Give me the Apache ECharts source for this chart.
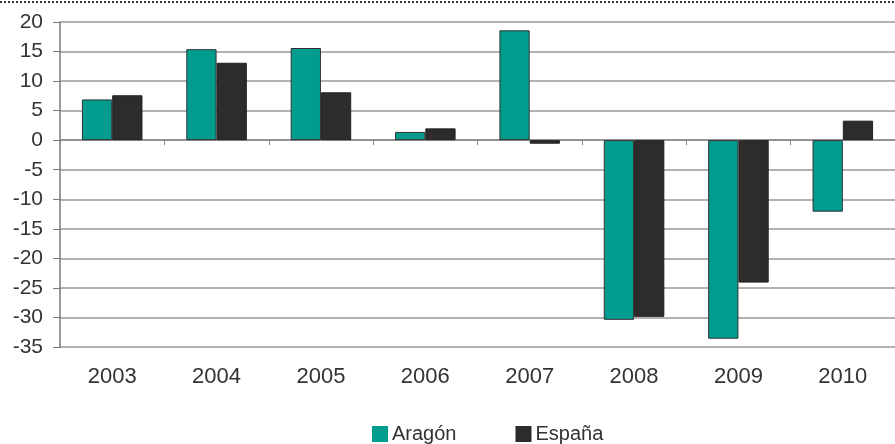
<!DOCTYPE html>
<html>
<head>
<meta charset="utf-8">
<script src="https://cdn.jsdelivr.net/npm/echarts@6/dist/echarts.min.js"></script>
<style>
  html, body { margin: 0; padding: 0; background: #fff; }
  #c { width: 895px; height: 444px; }
</style>
</head>
<body>
<div id="c"></div>
<script>
(() => {
  "use strict";
  const years = ["2003", "2004", "2005", "2006", "2007", "2008", "2009", "2010"];
  const aragon = [6.9, 15.4, 15.6, 1.4, 18.6, -30.4, -33.6, -12.1];
  const espana = [7.6, 13.1, 8.1, 2.0, -0.6, -29.9, -24.1, 3.3];
  const TEAL = "#009d8f", DARK = "#2d2b2c";
  const FONT = "'Liberation Sans', Arial, sans-serif";

  const chart = echarts.init(document.getElementById("c"));
  chart.setOption({
    animation: false,
    textStyle: { fontFamily: FONT },
    graphic: [{
      type: "line", shape: { x1: 0, y1: 2, x2: 895, y2: 2 },
      style: { stroke: "#333", lineWidth: 2, lineDash: [2, 2] }
    }],
    grid: { left: 60, top: 22, width: 844, height: 325 },
    legend: {
      left: 372, top: 424, padding: 0, itemWidth: 16, itemHeight: 16, itemGap: 59,
      icon: "rect",
      textStyle: { fontSize: 20, color: "#333", fontFamily: FONT, padding: [0, 0, 0, -1] },
      data: [
        { name: "Aragón", itemStyle: { color: TEAL, borderWidth: 0 } },
        { name: "España", itemStyle: { color: DARK, borderWidth: 0 } }
      ]
    },
    xAxis: [{
      type: "category", data: years, position: "bottom",
      axisLine: { onZero: false, show: false },
      axisTick: { show: false },
      axisLabel: { fontSize: 22, color: "#333", margin: 19 }
    }, {
      type: "category", data: years, position: "bottom", gridIndex: 0,
      axisLine: { onZero: true, lineStyle: { color: "#888", width: 1.5 } },
      axisTick: { show: true, inside: false, length: 5, lineStyle: { color: "#888" } },
      axisLabel: { show: false }
    }],
    yAxis: {
      type: "value", min: -35, max: 20, interval: 5,
      axisLine: { show: true, lineStyle: { color: "#777", width: 1.5 } },
      axisTick: { show: true, length: 7, lineStyle: { color: "#777" } },
      axisLabel: { fontSize: 21, color: "#333", margin: 17 },
      splitLine: { lineStyle: { color: "#999", width: 1.5 } }
    },
    series: [
      { name: "Aragón", type: "bar", data: aragon, barGap: "0%", barCategoryGap: "42%",
        itemStyle: { color: TEAL, borderColor: "#333", borderWidth: 1 } },
      { name: "España", type: "bar", data: espana,
        itemStyle: { color: DARK, borderColor: "#222", borderWidth: 1 } }
    ]
  });
})();
</script>
</body>
</html>
